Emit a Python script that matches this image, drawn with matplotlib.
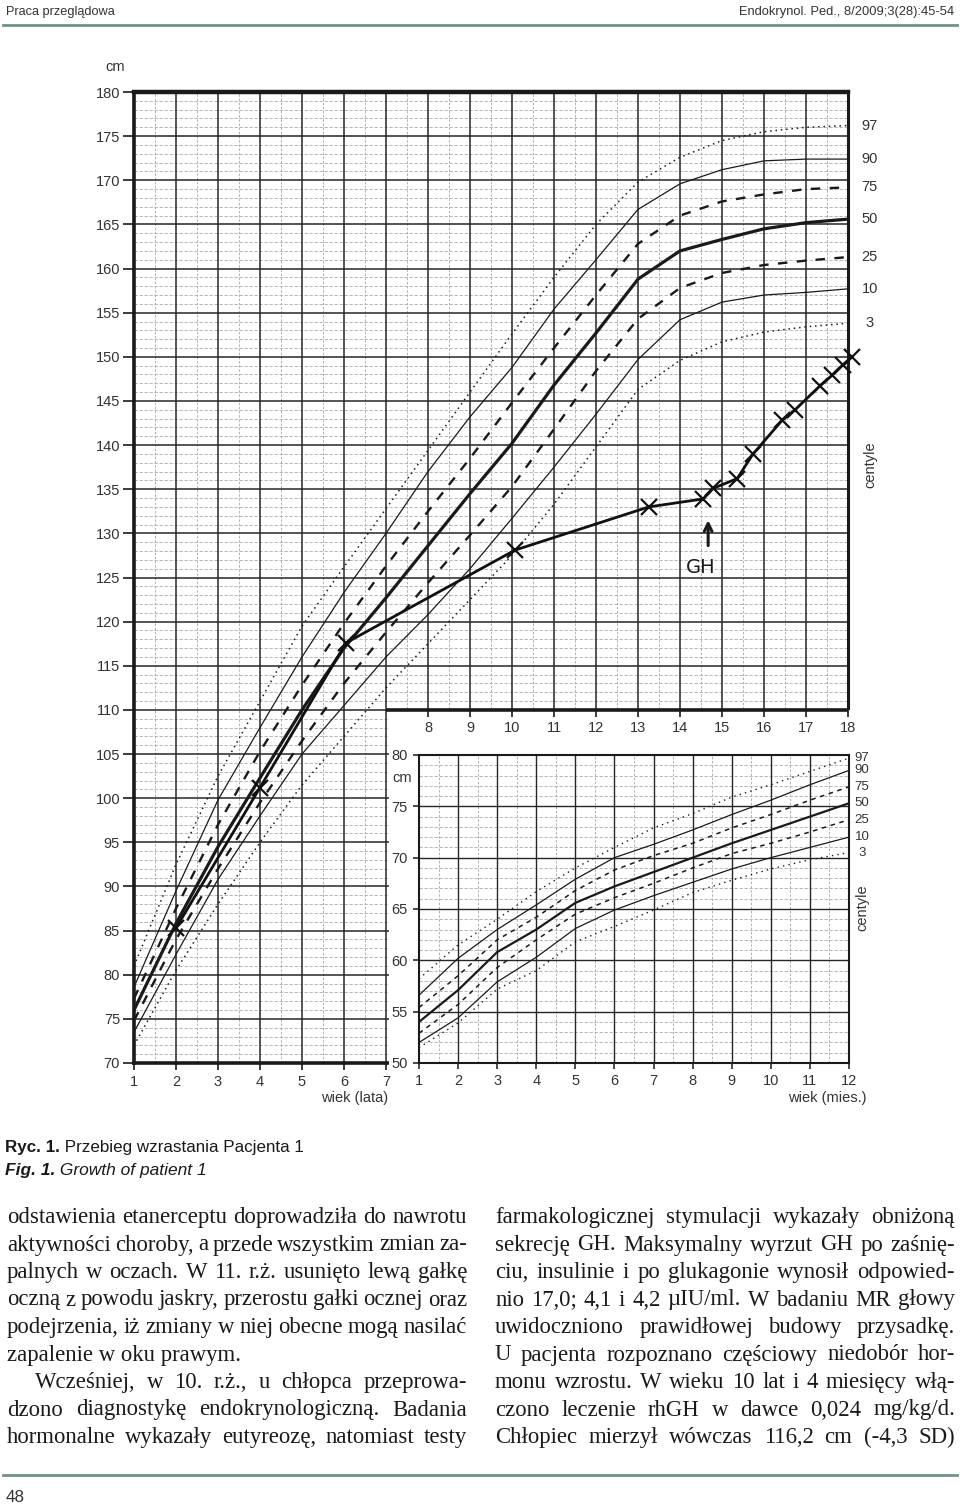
import numpy as np
import matplotlib
matplotlib.use('Agg')
import matplotlib.pyplot as plt
from matplotlib import font_manager
from matplotlib.lines import Line2D
from matplotlib.patches import Rectangle

W, H = 960, 1506

# centile curves, boys height, 1-18 years (cm)
ages = list(range(1, 19))
c97 = [81.0, 92.5, 102.5, 111.0, 119.5, 126.2, 132.8, 139.4, 146.0, 152.6, 159.0, 165.0, 169.8, 172.6, 174.5, 175.5, 176.0, 176.2]
c90 = [78.6, 89.5, 99.8, 108.0, 116.0, 123.3, 130.0, 137.0, 143.2, 148.8, 155.4, 161.0, 166.7, 169.6, 171.2, 172.2, 172.4, 172.4]
c75 = [77.3, 87.5, 97.0, 105.3, 112.8, 119.8, 126.3, 132.5, 138.5, 144.8, 151.0, 157.0, 162.8, 166.0, 167.6, 168.4, 169.0, 169.2]
c50 = [76.0, 85.8, 94.5, 102.3, 110.0, 117.0, 122.7, 128.6, 134.5, 140.2, 146.8, 152.7, 158.8, 162.0, 163.3, 164.5, 165.2, 165.6]
c25 = [74.8, 84.0, 92.0, 99.5, 106.5, 113.0, 118.8, 124.4, 129.8, 135.3, 141.8, 148.4, 154.3, 157.8, 159.5, 160.4, 160.9, 161.3]
c10 = [73.5, 82.3, 90.8, 98.0, 105.0, 110.5, 116.0, 120.8, 126.0, 131.7, 137.5, 143.5, 149.7, 154.2, 156.2, 157.0, 157.3, 157.7]
c3 = [72.0, 80.5, 88.0, 95.0, 101.5, 107.0, 112.5, 117.5, 122.5, 127.5, 133.3, 139.8, 146.3, 149.6, 151.7, 152.8, 153.4, 153.8]

# patient measurements
patient_age = [2.0, 4.0, 6.05, 10.07, 13.26, 14.55, 14.79, 15.36, 15.74, 16.43, 16.74, 17.33, 17.62, 17.88, 18.1]
patient_cm = [85.3, 101.2, 117.6, 128.1, 133.0, 133.9, 135.1, 136.2, 139.0, 142.8, 144.0, 146.7, 147.9, 149.1, 150.0]

# infant centiles, 1-12 months (cm)
months = list(range(1, 13))
i97 = [58.2, 61.5, 64.0, 66.7, 69.0, 71.0, 72.9, 74.3, 75.9, 77.1, 78.4, 79.7]
i90 = [56.6, 60.2, 63.0, 65.4, 67.9, 70.0, 71.3, 72.7, 74.2, 75.6, 77.1, 78.5]
i75 = [55.4, 58.5, 62.0, 64.2, 66.8, 68.8, 70.2, 71.4, 72.9, 74.2, 75.6, 76.9]
i50 = [54.0, 57.1, 60.8, 63.0, 65.6, 67.2, 68.6, 70.0, 71.4, 72.7, 74.0, 75.3]
i25 = [52.9, 55.7, 59.3, 62.0, 64.5, 66.1, 67.5, 69.0, 70.4, 71.4, 72.5, 73.7]
i10 = [52.0, 54.4, 57.9, 60.3, 63.1, 64.9, 66.3, 67.6, 68.9, 70.0, 71.0, 72.0]
i3 = [51.5, 53.9, 57.2, 59.0, 61.8, 63.3, 64.9, 66.6, 67.8, 68.9, 69.8, 70.5]

centile_names = ['97', '90', '75', '50', '25', '10', '3']
main_yticks = list(range(70, 181, 5))
low_ages = [1, 2, 3, 4, 5, 6, 7]
high_ages = [8, 9, 10, 11, 12, 13, 14, 15, 16, 17, 18]
inset_yticks = [50, 55, 60, 65, 70, 75, 80]

left_col = [
    "odstawienia etanerceptu doprowadziła do nawrotu",
    "aktywności choroby, a przede wszystkim zmian za-",
    "palnych w oczach. W 11. r.ż. usunięto lewą gałkę",
    "oczną z powodu jaskry, przerostu gałki ocznej oraz",
    "podejrzenia, iż zmiany w niej obecne mogą nasilać",
    "zapalenie w oku prawym.",
    "Wcześniej, w 10. r.ż., u chłopca przeprowa-",
    "dzono diagnostykę endokrynologiczną. Badania",
    "hormonalne wykazały eutyreozę, natomiast testy",
]
right_col = [
    "farmakologicznej stymulacji wykazały obniżoną",
    "sekrecję GH. Maksymalny wyrzut GH po zaśnię-",
    "ciu, insulinie i po glukagonie wynosił odpowied-",
    "nio 17,0; 4,1 i 4,2 µIU/ml. W badaniu MR głowy",
    "uwidoczniono prawidłowej budowy przysadkę.",
    "U pacjenta rozpoznano częściowy niedobór hor-",
    "monu wzrostu. W wieku 10 lat i 4 miesięcy włą-",
    "czono leczenie rhGH w dawce 0,024 mg/kg/d.",
    "Chłopiec mierzył wówczas 116,2 cm (-4,3 SD)",
]

names = {f.name for f in font_manager.fontManager.ttflist}
NARROW = 'Liberation Sans Narrow' if 'Liberation Sans Narrow' in names else 'Liberation Sans'
SANS = 'Liberation Sans'
SERIF = 'Liberation Serif'
INK = '#1a1a1a'
GREY = '#333333'

plt.rcParams['font.family'] = [SANS, 'DejaVu Sans']

fig = plt.figure(figsize=(W / 100, H / 100), dpi=100)
r = fig.canvas.get_renderer()


def fx(x):
    return x / W


def fy(y):
    return 1 - y / H


def fitted(parts, x, y, width, color=INK):
    """Several runs of text on one line, scaled to span `width` pixels."""
    texts = [fig.text(0, fy(y), s, fontsize=10, family=NARROW, color=color,
                      va='baseline', **kw) for s, kw in parts]
    total = sum(t.get_window_extent(r).width for t in texts)
    k = width / total
    cur = x
    for t in texts:
        t.set_fontsize(10 * k)
        t.set_x(fx(cur))
        cur += t.get_window_extent(r).width
    return texts


def draw_grid(a, x0, x1, y0, y1, dark_lw=1.1):
    for v in np.arange(x0 + 0.5, x1, 1.0):
        a.axvline(v, color='#a5a5a5', lw=0.6, ls=(0, (3, 2)), zorder=1)
    for v in range(x0 + 1, x1):
        a.axvline(v, color='#262626', lw=dark_lw, zorder=1.5)
    for v in range(y0 + 1, y1):
        if v % 5:
            a.axhline(v, color='#ababab', lw=0.6, ls=(0, (4, 2)), zorder=1)
    for v in range(y0 + 5, y1, 5):
        a.axhline(v, color='#262626', lw=dark_lw, zorder=1.5)


# ---------------- main chart ----------------
ax = fig.add_axes([fx(134), fy(1063), 714 / W, 971 / H])
ax.set_xlim(1, 18)
ax.set_ylim(70, 180)
draw_grid(ax, 1, 18, 70, 180)
for side, lw in [('top', 3.2), ('left', 2.6), ('right', 2.2), ('bottom', 2.6)]:
    ax.spines[side].set_linewidth(lw)
    ax.spines[side].set_color(INK)
ax.set_yticks(main_yticks)
ax.set_yticklabels([str(v) for v in main_yticks])
ax.set_xticks(low_ages)
ax.set_xticklabels([str(v) for v in low_ages])
ax.tick_params(axis='y', direction='out', length=8, width=1.2, pad=2,
               labelsize=10.5, labelcolor=GREY, color=INK)
ax.tick_params(axis='x', direction='out', length=5, width=1.2, pad=4,
               labelsize=10.5, labelcolor=GREY, color=INK)

styles = [
    dict(ls=(0, (1, 2.5)), lw=1.1),
    dict(ls='-', lw=0.9),
    dict(ls=(0, (4, 4)), lw=1.7),
    dict(ls='-', lw=2.3),
    dict(ls=(0, (4, 4)), lw=1.7),
    dict(ls='-', lw=0.9),
    dict(ls=(0, (1, 2.5)), lw=1.1),
]
for name, vals, st in zip(centile_names, [c97, c90, c75, c50, c25, c10, c3], styles):
    ax.plot(ages, vals, color=INK, zorder=3, **st)
    ax.text(18.52, vals[-1], name, ha='center', va='center', fontsize=10.5,
            color=GREY, clip_on=False)

ax.plot(patient_age, patient_cm, color='#111111', lw=2.0, marker='x', ms=12,
        mew=1.6, zorder=6, clip_on=False)

# white panel holding the infant chart
ax.add_patch(Rectangle((7.06, 69.8), 11.3, 40.2, facecolor='white',
                       edgecolor='none', zorder=4, clip_on=False))
ax.plot([7, 18], [110, 110], color=INK, lw=2.6, zorder=5, solid_capstyle='butt')
for a in high_ages:
    ax.plot(a, 110, marker=3, ms=5, mew=1.2, color=INK, zorder=5, clip_on=False)
    ax.annotate(str(a), (a, 110), xytext=(0, -8), textcoords='offset points',
                ha='center', va='top', fontsize=10.5, color=GREY, zorder=5)

ax.annotate('', xy=(14.67, 131.8), xytext=(14.67, 128.3),
            arrowprops=dict(arrowstyle='->', lw=2.2, color=INK,
                            mutation_scale=14), zorder=6)
ax.text(14.5, 126.1, 'GH', ha='center', va='center', fontsize=14,
        color=INK, family='DejaVu Sans', zorder=6)

fig.text(fx(115), fy(67), 'cm', ha='center', va='center', fontsize=10.5, color=GREY)
fig.text(fx(870), fy(465), 'centyle', ha='center', va='center', rotation=90,
         fontsize=10.5, color=GREY)
fig.text(fx(355), fy(1098), 'wiek (lata)', ha='center', va='center',
         fontsize=10.5, color=GREY)

# ---------------- infant inset ----------------
axi = fig.add_axes([fx(419), fy(1063), 430 / W, 308 / H])
axi.set_zorder(5)
axi.set_xlim(1, 12)
axi.set_ylim(50, 80)
draw_grid(axi, 1, 12, 50, 80, dark_lw=1.0)
for side in ['top', 'left', 'right', 'bottom']:
    axi.spines[side].set_linewidth(1.5)
    axi.spines[side].set_color(INK)
axi.set_xticks(months)
axi.set_xticklabels([str(m) for m in months])
axi.set_yticks(inset_yticks)
axi.set_yticklabels([str(v) for v in inset_yticks])
axi.tick_params(direction='out', length=4, width=1.1, pad=4, labelsize=10.5,
                labelcolor=GREY, color=INK)

istyles = [
    dict(ls=(0, (1, 3)), lw=1.0),
    dict(ls='-', lw=0.9),
    dict(ls=(0, (3, 3)), lw=1.1),
    dict(ls='-', lw=1.6),
    dict(ls=(0, (3, 3)), lw=1.1),
    dict(ls='-', lw=0.9),
    dict(ls=(0, (1, 3)), lw=1.0),
]
for name, vals, st in zip(centile_names, [i97, i90, i75, i50, i25, i10, i3], istyles):
    axi.plot(months, vals, color=INK, zorder=3, **st)
    axi.text(12.33, vals[-1], name, ha='center', va='center', fontsize=9.5,
             color=GREY, clip_on=False)

fig.text(fx(402), fy(778), 'cm', ha='center', va='center', fontsize=10.5, color=GREY)
fig.text(fx(862), fy(908), 'centyle', ha='center', va='center', rotation=90,
         fontsize=10.5, color=GREY)
fig.text(fx(867), fy(1098), 'wiek (mies.)', ha='right', va='center',
         fontsize=10.5, color=GREY)

# ---------------- page furniture ----------------
fitted([('Praca przeglądowa', {})], 6, 15, 110, color=GREY)
fitted([('Endokrynol. Ped., 8/2009;3(28):45-54', {})], 739, 15, 216, color=GREY)
fig.add_artist(Line2D([fx(3), fx(957)], [fy(25), fy(25)], color='#6f9384', lw=2))
fig.add_artist(Line2D([fx(3), fx(957)], [fy(1475), fy(1475)], color='#6f9384', lw=2))
fitted([('48', {})], 6, 1502, 19, color=GREY)

fitted([('Ryc. 1.', dict(weight='bold')),
        (' Przebieg wzrastania Pacjenta 1', {})], 5, 1152, 298)
fitted([('Fig. 1.', dict(weight='bold', style='italic')),
        (' Growth of patient 1', dict(style='italic'))], 5, 1175, 203)

# body text: one font size for both columns, chosen so the fullest line
# still keeps a 4 px word gap; every line but the paragraph end is justified
COLS = [(left_col, 7, 467, {5: 'last', 6: 'indent'}), (right_col, 495, 955, {})]
MIN_GAP = 4
need = []
for lines, x0, x1, special in COLS:
    for i, s in enumerate(lines):
        if special.get(i) == 'last':
            continue
        start = x0 + (28 if special.get(i) == 'indent' else 0)
        words = s.split()
        probe = [fig.text(0, 0, w, family=SERIF, fontsize=10) for w in words]
        tot = sum(t.get_window_extent(r).width for t in probe)
        for t in probe:
            t.remove()
        need.append(10 * (x1 - start - MIN_GAP * (len(words) - 1)) / tot)
BODY = min(16.5, min(need))


def body_line(s, x0, x1, y, justify=True):
    if not justify:
        fig.text(fx(x0), fy(y), s, family=SERIF, fontsize=BODY, color=INK,
                 va='baseline', ha='left')
        return
    words = s.split()
    texts = [fig.text(0, fy(y), w, family=SERIF, fontsize=BODY, color=INK,
                      va='baseline', ha='left') for w in words]
    widths = [t.get_window_extent(r).width for t in texts]
    gap = (x1 - x0 - sum(widths)) / max(len(words) - 1, 1)
    cur = x0
    for t, w in zip(texts, widths):
        t.set_x(fx(cur))
        cur += w + gap


base, step = 1223, 27.5
for lines, x0, x1, special in COLS:
    for i, s in enumerate(lines):
        y = base + i * step
        kind = special.get(i)
        if kind == 'last':
            body_line(s, x0, x1, y, justify=False)
        elif kind == 'indent':
            body_line(s, x0 + 28, x1, y)
        else:
            body_line(s, x0, x1, y)

fig.savefig('out.png', dpi=100)
